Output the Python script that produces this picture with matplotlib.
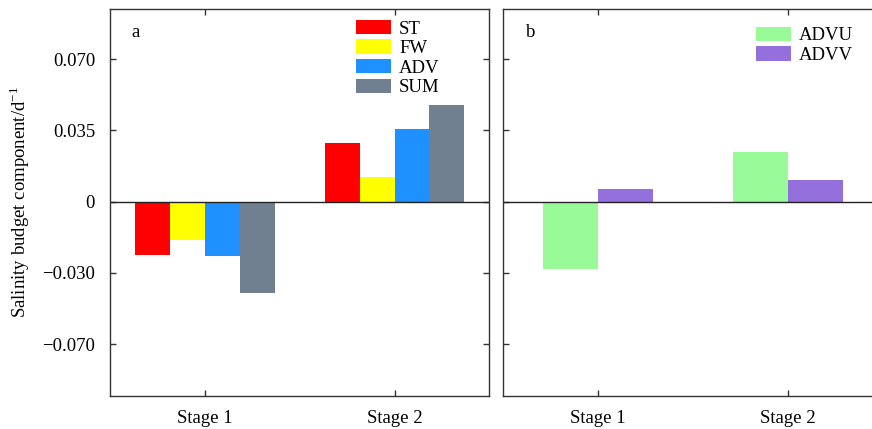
import matplotlib.pyplot as plt
import numpy as np

plt.rcParams['font.family'] = ['Liberation Serif', 'DejaVu Serif']
plt.rcParams['font.size'] = 13.5
plt.rcParams['mathtext.fontset'] = 'stix'

# values (d^-1)
stages = ["Stage 1", "Stage 2"]
series_a = ["ST", "FW", "ADV", "SUM"]
st = [-0.0260, 0.0288]
fw = [-0.0187, 0.0121]
adv = [-0.0265, 0.0357]
sum_ = [-0.0447, 0.0475]
series_b = ["ADVU", "ADVV"]
advu = [-0.0329, 0.0244]
advv = [0.0062, 0.0107]

ytick_pos = [0.07, 0.035, 0, -0.035, -0.07]
ytick_lab = ["0.070", "0.035", "0", "\u22120.030", "\u22120.070"]

colors_a = ["#ff0000", "#ffff00", "#1e90ff", "#708090"]
colors_b = ["#98fb98", "#9370db"]

fig = plt.figure(figsize=(8.72, 4.29), dpi=100)
ax1 = fig.add_axes([110.3 / 872, 33.3 / 429, 379 / 872, 386.7 / 429])
ax2 = fig.add_axes([503.3 / 872, 33.3 / 429, 379 / 872, 386.7 / 429])

x = np.arange(len(stages))

# panel a
w = 0.184
for i, (name, vals) in enumerate(zip(series_a, [st, fw, adv, sum_])):
    ax1.bar(x + (i - 1.5) * w, vals, w, color=colors_a[i], label=name)

# panel b
wb = 0.29
for i, (name, vals) in enumerate(zip(series_b, [advu, advv])):
    ax2.bar(x + (i - 0.5) * wb, vals, wb, color=colors_b[i], label=name)

for ax in (ax1, ax2):
    ax.axhline(0, color='#222222', lw=1)
    ax.set_xlim(-0.5, 1.5)
    ax.set_ylim(-0.0953, 0.0946)
    ax.set_xticks(x)
    ax.set_xticklabels(stages)
    ax.set_yticks(ytick_pos)
    ax.tick_params(direction='in', top=True, right=True, length=4,
                   width=1, color='#333333')
    ax.tick_params(axis='x', pad=10)
    ax.tick_params(axis='y', pad=11)
    for s in ax.spines.values():
        s.set_color('#333333')
        s.set_linewidth(1)

ax1.set_yticklabels(ytick_lab)
ax2.set_yticklabels([])
ax1.set_ylabel("Salinity budget component/d$^{\\mathregular{-1}}$")
ax1.yaxis.set_label_coords(-0.207, 0.502)

ax1.text(0.055, 0.94, "a", transform=ax1.transAxes, ha='left', va='center')
ax2.text(0.06, 0.94, "b", transform=ax2.transAxes, ha='left', va='center')

leg_kw = dict(loc='upper left', frameon=False, borderpad=0, borderaxespad=0,
              handlelength=1.87, handleheight=0.8, handletextpad=0.43,
              labelspacing=0.1)
ax1.legend(bbox_to_anchor=(0.648, 0.972), **leg_kw)
ax2.legend(bbox_to_anchor=(0.667, 0.954), **leg_kw)

plt.savefig("out.png", dpi=100)
